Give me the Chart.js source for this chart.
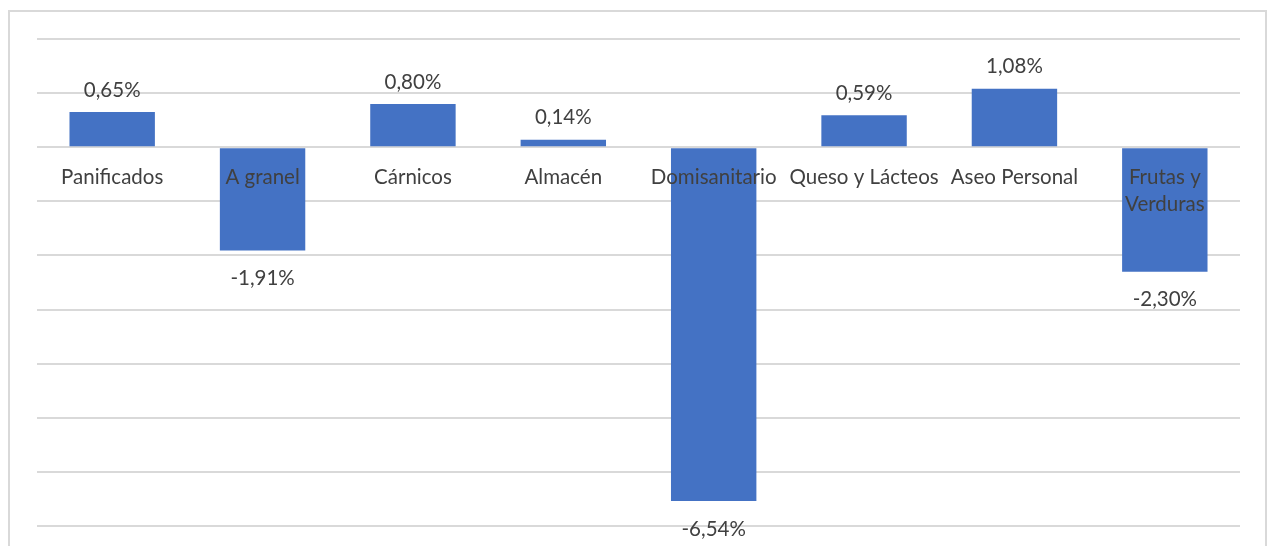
<!DOCTYPE html>
<html>
<head>
<meta charset="utf-8">
<script src="https://cdn.jsdelivr.net/npm/chart.js@4.4.1/dist/chart.umd.min.js"></script>
<style>
  html, body { margin: 0; padding: 0; background: #ffffff; }
  #wrap { position: absolute; left: 0; top: 0; width: 1267px; height: 546px; }
</style>
</head>
<body>
<div id="wrap"><canvas id="c" width="1267" height="546"></canvas></div>
<script>
const categories = ["Panificados", "A granel", "Cárnicos", "Almacén", "Domisanitario", "Queso y Lácteos", "Aseo Personal", ["Frutas y", "Verduras"]];
const values = [0.65, -1.91, 0.80, 0.14, -6.54, 0.59, 1.08, -2.30];
const valueLabels = ["0,65%", "-1,91%", "0,80%", "0,14%", "-6,54%", "0,59%", "1,08%", "-2,30%"];
const yMin = -7;
const yMax = 2;
const yStep = 1;

const FONT = "Lato, 'Open Sans', sans-serif";
const TEXT = "#404040";

const frame = {
  id: "frame",
  beforeDraw(chart) {
    const ctx = chart.ctx;
    ctx.save();
    ctx.fillStyle = "#ffffff";
    ctx.fillRect(0, 0, chart.width, chart.height);
    ctx.strokeStyle = "#d9d9d9";
    ctx.lineWidth = 2;
    ctx.strokeRect(9, 11, 1257, 560);
    ctx.restore();
  }
};

const labelsPlugin = {
  id: "labelsPlugin",
  afterDatasetsDraw(chart) {
    const ctx = chart.ctx;
    const meta = chart.getDatasetMeta(0);
    const y0 = chart.scales.y.getPixelForValue(0);
    ctx.save();
    ctx.font = "20.5px " + FONT;
    ctx.fillStyle = TEXT;
    ctx.textAlign = "center";
    ctx.textBaseline = "middle";
    meta.data.forEach((bar, i) => {
      const cat = categories[i];
      const lines = Array.isArray(cat) ? cat : [cat];
      lines.forEach((ln, k) => {
        ctx.fillText(ln, bar.x, y0 + 30 + k * 27);
      });
      const v = values[i];
      if (v >= 0) {
        ctx.fillText(valueLabels[i], bar.x, bar.y - 22);
      } else {
        ctx.fillText(valueLabels[i], bar.x, bar.y + 28);
      }
    });
    ctx.restore();
  }
};

new Chart(document.getElementById("c"), {
  type: "bar",
  data: {
    labels: categories,
    datasets: [{
      data: values,
      backgroundColor: "#4472C4",
      borderWidth: 0,
      barPercentage: 0.568,
      categoryPercentage: 1.0
    }]
  },
  options: {
    responsive: false,
    animation: false,
    devicePixelRatio: 1,
    layout: { padding: { left: 37, right: 27, top: 39, bottom: 20 } },
    plugins: { legend: { display: false }, tooltip: { enabled: false } },
    scales: {
      x: { display: false },
      y: {
        min: yMin, max: yMax,
        ticks: { display: false, stepSize: yStep },
        border: { display: false },
        grid: { color: "#d9d9d9", lineWidth: 2, drawTicks: false }
      }
    }
  },
  plugins: [frame, labelsPlugin]
});
</script>
</body>
</html>
